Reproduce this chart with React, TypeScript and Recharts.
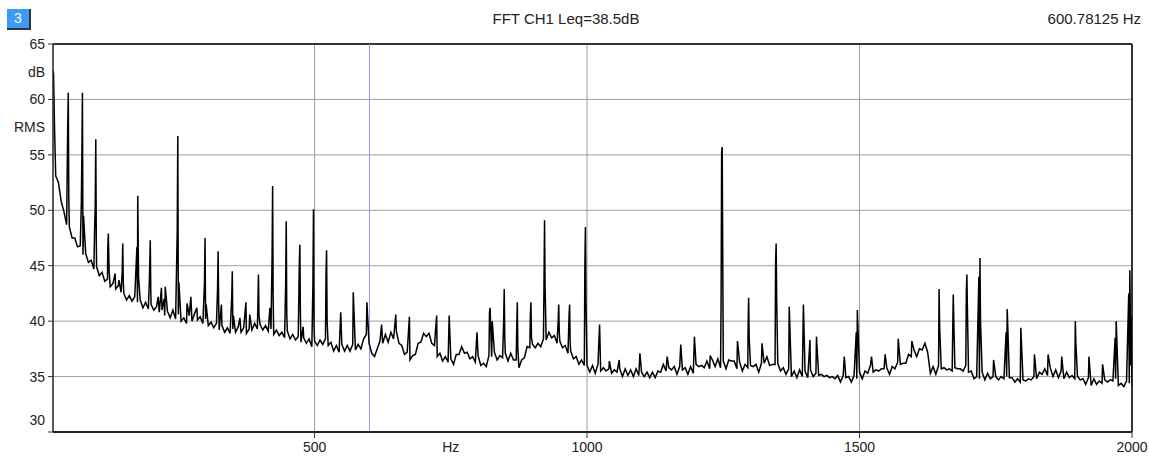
import { CartesianGrid, Line, LineChart, ReferenceLine, XAxis, YAxis } from "recharts";

// Noise floor, one reading every 5 Hz from 20 Hz up to 2000 Hz (dB RMS)
const FLOOR_START_HZ = 20;
const FLOOR_STEP_HZ = 5;
const FLOOR_DB = [
  62.6, 53.1, 52.5, 50.8, 49.9, 48.7, 48.5, 47.5, 47.5, 46.7, 46.8, 46.0, 46.1, 45.3, 45.5, 44.7, 44.9, 44.1, 44.4, 43.6,
  43.8, 43.1, 43.4, 42.9, 43.2, 42.6, 42.5, 41.9, 42.3, 41.8, 42.2, 41.7, 41.9, 41.2, 41.7, 41.1, 41.5, 41.0, 41.3, 40.8,
  41.0, 40.5, 40.9, 40.3, 41.0, 40.2, 40.6, 40.0, 40.3, 39.8, 40.5, 40.0, 40.7, 40.1, 40.4, 39.8, 40.2, 39.6, 39.9, 39.4,
  39.8, 39.2, 39.6, 39.0, 39.4, 38.9, 39.3, 39.0, 39.5, 39.0, 39.4, 38.9, 39.3, 39.2, 39.8, 39.3, 39.7, 39.2, 39.6, 39.1,
  39.3, 38.8, 39.2, 38.7, 39.0, 38.5, 39.1, 38.4, 38.8, 38.3, 38.6, 38.1, 38.5, 38.0, 38.4, 37.7, 38.2, 37.8, 38.3, 37.9,
  38.4, 37.8, 38.1, 37.3, 37.8, 37.2, 37.9, 37.3, 37.8, 37.3, 37.9, 37.4, 37.9, 37.5, 38.4, 38.8, 38.0, 37.1, 36.8, 37.5,
  38.2, 38.0, 38.8, 38.1, 39.0, 38.4, 39.1, 38.0, 37.8, 37.0, 37.2, 36.5, 36.9, 37.0, 38.0, 38.1, 38.9, 38.6, 38.9, 38.0,
  37.8, 36.8, 37.1, 36.4, 36.8, 36.3, 36.6, 36.1, 37.0, 37.0, 37.7, 37.1, 37.2, 36.6, 36.8, 36.3, 36.9, 36.0, 36.2, 35.9,
  36.9, 36.8, 37.2, 36.5, 36.9, 36.7, 37.1, 36.4, 37.1, 36.5, 36.5, 35.8, 36.5, 36.7, 37.7, 37.6, 37.9, 37.6, 38.0, 37.7,
  38.4, 38.3, 39.0, 38.5, 38.7, 38.0, 38.2, 37.6, 37.8, 37.1, 37.3, 36.6, 36.8, 36.1, 36.5, 36.0, 36.0, 35.4, 36.0, 35.3,
  36.1, 35.5, 35.8, 35.5, 35.7, 35.3, 35.6, 35.4, 35.7, 35.0, 35.7, 35.1, 35.6, 35.0, 35.7, 35.1, 35.4, 35.0, 35.4, 34.9,
  35.4, 34.9, 35.5, 35.4, 36.1, 35.5, 35.8, 35.6, 35.9, 35.2, 35.9, 35.6, 35.8, 35.2, 35.9, 35.3, 36.1, 35.9, 36.0, 35.8,
  36.4, 35.7, 36.5, 35.9, 36.6, 35.8, 36.4, 35.7, 36.5, 36.4, 36.4, 35.7, 36.3, 35.5, 36.1, 35.8, 36.0, 35.9, 36.1, 35.4,
  36.2, 36.2, 36.8, 36.0, 36.1, 36.1, 36.2, 35.5, 35.8, 35.2, 35.7, 35.0, 35.5, 34.9, 35.6, 35.0, 35.5, 34.9, 35.6, 35.0,
  35.3, 35.1, 35.2, 35.0, 35.1, 34.9, 35.0, 34.8, 35.1, 34.5, 35.1, 34.9, 35.0, 34.5, 35.1, 34.8, 35.4, 34.8, 35.5, 35.3,
  36.0, 35.4, 35.6, 35.5, 35.7, 35.7, 35.8, 35.2, 35.9, 35.7, 36.3, 36.1, 36.2, 36.2, 37.0, 36.8, 37.4, 36.8, 37.5, 37.4,
  38.0, 37.2, 35.3, 35.9, 35.2, 36.0, 35.7, 35.8, 35.6, 35.7, 35.5, 35.8, 35.7, 35.7, 35.5, 36.0, 35.4, 35.5, 34.8, 35.0,
  34.8, 35.4, 34.7, 35.3, 34.8, 35.0, 35.0, 34.7, 35.0, 34.8, 35.0, 34.9, 34.9, 34.5, 34.8, 34.5, 34.7, 34.6, 34.8, 34.7,
  35.0, 34.8, 35.4, 35.2, 35.7, 35.1, 35.8, 35.0, 35.6, 34.9, 35.5, 34.8, 35.4, 34.9, 35.1, 34.8, 35.0, 34.7, 34.8, 34.3,
  34.9, 34.2, 34.8, 34.3, 34.6, 34.4, 34.7, 34.5, 34.7, 34.6, 34.8, 34.2, 34.4, 34.1, 34.6, 34.4, 34.2,
];

// Tonal lines and their shoulders: [Hz, dB]
const SPIKES: [number, number][] = [
  [21, 62.3], [23, 57.0],
  [46, 53.2], [47, 57.4], [48, 60.6], [49, 51.0],
  [72, 50.6], [73, 55.1], [74, 60.6], [76, 49.5],
  [96.5, 48.6], [97.5, 50.3], [98.5, 56.4], [99.5, 47.0],
  [120.5, 46.6], [121.5, 47.9], [123, 44.5],
  [134, 44.3], [141, 43.7],
  [147, 44.5], [148, 47.0], [149, 43.5],
  [174, 46.7], [175.5, 51.3], [177, 44.0],
  [197, 43.9], [198.5, 47.3], [199.5, 42.5],
  [213, 42.2], [219, 43.0], [224, 42.0], [226, 43.1],
  [248, 48.2], [249, 56.7], [251, 43.5],
  [266, 41.6], [273, 42.2], [284, 41.2],
  [298, 43.5], [299, 47.5], [301, 41.5],
  [322, 43.0], [323, 46.3], [324, 41.5], [329, 41.5],
  [348, 42.2], [349, 44.5], [351, 40.5],
  [363, 40.3], [374, 41.7], [381, 40.6],
  [396, 41.5], [397, 44.2], [398, 40.5],
  [418, 41.2],
  [422, 45.7], [423, 52.2], [424, 42.0],
  [447, 43.5], [448, 49.0], [449, 40.5],
  [472, 45.1], [473, 46.9], [474, 40.5], [479, 39.5],
  [497, 43.4], [498, 50.1], [499, 39.5],
  [521, 44.2], [522, 46.4], [523, 40.0],
  [548, 40.8], [571, 42.6], [596, 41.7],
  [623, 39.7], [649, 40.6], [674, 40.4], [724, 40.5], [747, 40.5], [798, 39.0],
  [821, 40.8], [822, 41.2], [826, 40.0],
  [847, 40.0], [848, 42.9], [849, 38.5],
  [871, 39.5], [872, 41.7], [873, 37.5],
  [896, 40.5], [897, 41.7], [898, 38.5],
  [921, 43.4], [922, 49.1], [923, 43.0],
  [947, 40.0], [948, 41.5], [949, 39.0],
  [967, 40.5], [968, 41.5], [969, 38.0],
  [996, 44.9], [997, 48.5], [998, 41.9],
  [1023, 39.7], [1041, 36.4], [1059, 36.5], [1097, 37.1], [1147, 36.8],
  [1172, 37.9], [1197, 38.6], [1226, 36.9],
  [1246, 41.9], [1247, 55.3], [1248, 55.7], [1249, 45.8],
  [1276, 38.2],
  [1295.5, 39.2], [1296.5, 42.1], [1297.5, 38.5],
  [1321, 38.0],
  [1346, 45.3], [1347, 47.0], [1348, 41.8],
  [1371, 41.3], [1397, 41.5], [1409, 38.3], [1421, 38.6], [1472, 36.8],
  [1494, 39.0], [1496, 41.0],
  [1522, 36.8], [1547, 37.0], [1571, 38.4], [1596, 38.2],
  [1646, 42.9], [1647, 39.5],
  [1672, 42.4], [1673, 40.0],
  [1696, 42.6], [1697, 44.2], [1698, 41.0],
  [1719, 44.0], [1721, 45.7], [1722, 40.0],
  [1746, 36.5],
  [1769, 39.0], [1771, 41.1],
  [1796, 39.4], [1821, 37.0], [1846, 37.0], [1871, 36.8],
  [1896, 40.0], [1897, 38.0],
  [1921, 36.8], [1946, 36.1],
  [1969, 38.5], [1971, 40.0],
  [1994, 42.5], [1996, 44.6], [1998, 36.0], [1999, 40.4],
];

const X_TICKS = [500, 750, 1000, 1500, 2000];
const Y_TICKS = [30, 35, 40, 45, 50, 55, 57.5, 60, 62.5, 65];
const Y_TEXT: Record<number, string> = { 57.5: "RMS", 62.5: "dB" };
const CURSOR_HZ = 600.78125;
const TITLE = "FFT CH1 Leq=38.5dB";

const font = "'Liberation Sans', Arial, sans-serif";
const textColor = "#222";

const data = [
  ...FLOOR_DB.map((db, i) => ({ hz: FLOOR_START_HZ + i * FLOOR_STEP_HZ, db })),
  ...SPIKES.map(([hz, db]) => ({ hz, db })),
].sort((a, b) => a.hz - b.hz);

function YTick({ x, y, payload }: any) {
  const v = payload.value as number;
  const label = Y_TEXT[v];
  const shift = v === 30 ? -12 : 0;
  return (
    <g>
      {!label && <line x1={x + 3} x2={x + 8} y1={y} y2={y} stroke="#333" />}
      <text x={x} y={y + shift} dy={5} textAnchor="end" fill={textColor} fontSize={14} fontFamily={font}>
        {label ?? v}
      </text>
    </g>
  );
}

function XTick({ x, y, payload }: any) {
  const v = payload.value as number;
  return (
    <g>
      {v !== 750 && <line x1={x} x2={x} y1={y} y2={y + 6} stroke="#333" />}
      <text x={x} y={y + 20} textAnchor="middle" fill={textColor} fontSize={14} fontFamily={font}>
        {v === 750 ? "Hz" : v}
      </text>
    </g>
  );
}

export default function App() {
  return (
    <div style={{ position: "absolute", left: 0, top: 0, width: 1149, height: 457, background: "#fff", fontFamily: font }}>
      <div
        style={{
          position: "absolute", left: 7, top: 9, width: 22, height: 19, background: "#3d9bf5",
          borderRight: "2px solid #333", borderBottom: "2px solid #333",
          color: "#fff", fontSize: 14, lineHeight: "19px", textAlign: "center",
        }}
      >
        3
      </div>
      <div style={{ position: "absolute", left: 466, top: 10, width: 200, textAlign: "center", fontSize: 15, color: textColor, whiteSpace: "nowrap" }}>
        {TITLE}
      </div>
      <div style={{ position: "absolute", right: 8, top: 10, fontSize: 15, color: textColor, whiteSpace: "nowrap" }}>
        {CURSOR_HZ} Hz
      </div>
      <LineChart width={1149} height={457} data={data} margin={{ top: 44, right: 17, left: 0, bottom: 0 }}>
        <CartesianGrid
          stroke="#a0a0a0"
          horizontalValues={[35, 40, 45, 50, 55, 60]}
          verticalValues={[500, 1000, 1500]}
        />
        <XAxis
          dataKey="hz"
          type="number"
          domain={[20, 2000]}
          ticks={X_TICKS}
          height={25}
          tickSize={0}
          tickMargin={0}
          axisLine={{ stroke: "#222", strokeWidth: 2 }}
          tickLine={false}
          tick={<XTick />}
          allowDataOverflow
        />
        <YAxis
          type="number"
          domain={[30, 65]}
          ticks={Y_TICKS}
          width={53}
          axisLine={{ stroke: "#222", strokeWidth: 1.5 }}
          tickLine={false}
          tick={<YTick />}
          allowDataOverflow
        />
        <ReferenceLine y={65} stroke="#333" strokeWidth={2} />
        <ReferenceLine x={2000} stroke="#333" strokeWidth={2} />
        <ReferenceLine x={CURSOR_HZ} stroke="#9a9aff" strokeWidth={1} />
        <Line
          dataKey="db"
          type="linear"
          stroke="#000"
          strokeWidth={1.5}
          dot={false}
          isAnimationActive={false}
        />
      </LineChart>
    </div>
  );
}
